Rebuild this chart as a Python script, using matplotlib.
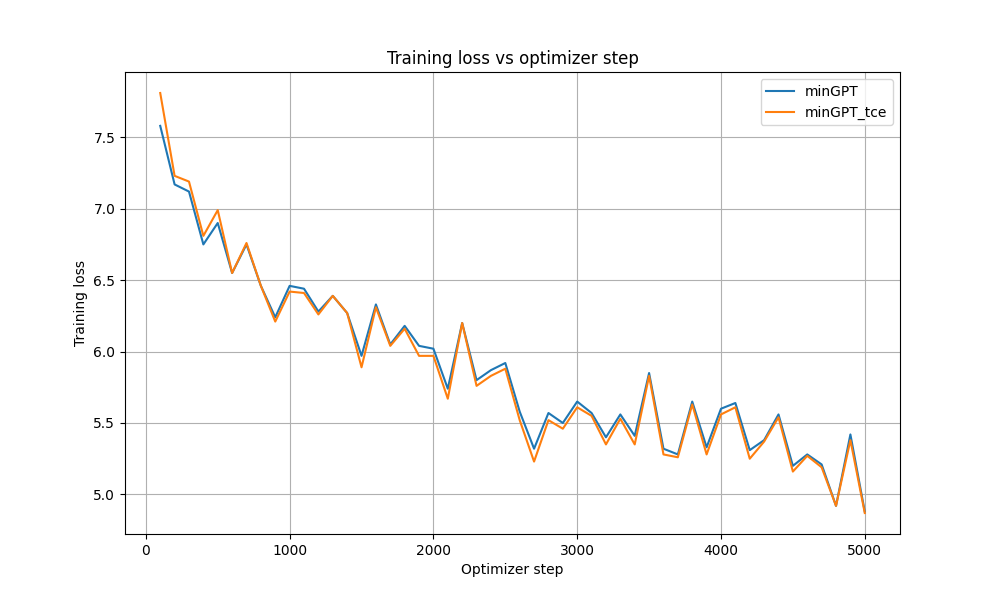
import numpy as np
import matplotlib
matplotlib.use('Agg')
import matplotlib.pyplot as plt

## Data
steps = np.arange(100, 5001, 100)

loss_mingpt = [7.58, 7.17, 7.12, 6.75, 6.90, 6.55, 6.75, 6.46, 6.24, 6.46,
               6.44, 6.28, 6.39, 6.27, 5.97, 6.33, 6.05, 6.18, 6.04, 6.02,
               5.74, 6.20, 5.80, 5.87, 5.92, 5.58, 5.32, 5.57, 5.50, 5.65,
               5.57, 5.40, 5.56, 5.41, 5.85, 5.32, 5.28, 5.65, 5.33, 5.60,
               5.64, 5.31, 5.38, 5.56, 5.20, 5.28, 5.21, 4.92, 5.42, 4.88]

loss_tce = [7.81, 7.23, 7.19, 6.81, 6.99, 6.55, 6.76, 6.46, 6.21, 6.42,
            6.41, 6.26, 6.39, 6.27, 5.89, 6.31, 6.04, 6.16, 5.97, 5.97,
            5.67, 6.20, 5.76, 5.83, 5.88, 5.52, 5.23, 5.52, 5.46, 5.61,
            5.55, 5.35, 5.53, 5.35, 5.83, 5.28, 5.26, 5.63, 5.28, 5.56,
            5.61, 5.25, 5.37, 5.54, 5.16, 5.27, 5.19, 4.92, 5.38, 4.87]

fig = plt.figure(figsize=[10, 6], dpi=100)
ax = fig.add_subplot(1, 1, 1)
ax.plot(steps, loss_mingpt, label='minGPT')
ax.plot(steps, loss_tce, label='minGPT_tce')
ax.set_title('Training loss vs optimizer step')
ax.set_xlabel('Optimizer step')
ax.set_ylabel('Training loss')
ax.grid(True)
ax.legend()
fig.savefig('out.png')
